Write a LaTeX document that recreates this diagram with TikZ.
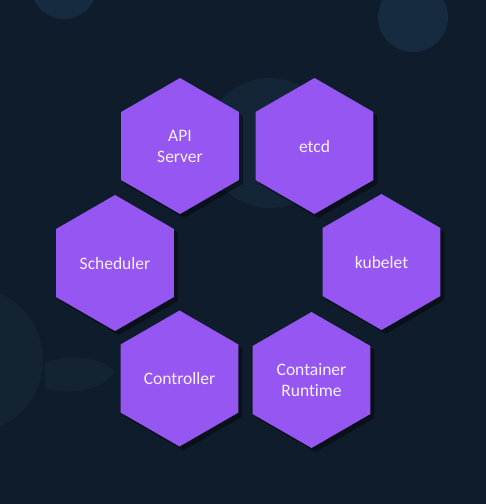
\documentclass[tikz,border=0pt]{standalone}
\usepackage{fontspec}
\setmainfont{Carlito}[Ligatures=NoCommon]
\usetikzlibrary{shapes.geometric,shadows}
\definecolor{bgnavy}{RGB}{15,28,43}
\definecolor{bgcircle}{RGB}{23,43,64}
\definecolor{bgmid}{RGB}{20,37,55}
\definecolor{bgfaint}{RGB}{19,35,50}
\definecolor{hexpurple}{RGB}{150,86,242}
\definecolor{hextext}{RGB}{246,240,255}
\tikzset{
  hexnode/.style={regular polygon, regular polygon sides=6, shape border rotate=30,
    minimum size=136pt, inner sep=0pt, fill=hexpurple, text=hextext,
    font=\fontsize{17.5}{21}\selectfont, align=center,
    drop shadow={shadow xshift=4pt, shadow yshift=-4pt, fill=black, opacity=0.4}},
  deco/.style={fill=bgcircle},
  midc/.style={fill=bgmid},
  faint/.style={fill=bgfaint}
}
\begin{document}
\begin{tikzpicture}[x=1pt,y=-1pt]
  \useasboundingbox (0,0) rectangle (486,504);
  \fill[bgnavy] (0,0) rectangle (486,504);
  \begin{scope}
    \clip (0,0) rectangle (486,504);
    % background decorations
    \fill[deco] (64,-14) circle (33);
    \fill[deco] (413,17) circle (35);
    \fill[midc] (270,143) circle (65);
    \fill[faint] (-30,360) circle (73);
    \fill[faint] (45,362) .. controls (70,355) and (100,355) .. (115,372)
                 .. controls (100,392) and (70,395) .. (45,388) -- cycle;
  \end{scope}
  % hexagons
  \node[hexnode] (api)  at (180,146) {API\\Server};
  \node[hexnode] (etcd) at (314.5,146) {etcd};
  \node[hexnode] (sched) at (115,263) {Scheduler};
  \node[hexnode] (kubelet) at (381.5,262) {kubelet};
  \node[hexnode] (ctrl) at (179.5,378.5) {Controller};
  \node[hexnode] (rt) at (311.5,380) {Container\\Runtime};
\end{tikzpicture}
\end{document}
